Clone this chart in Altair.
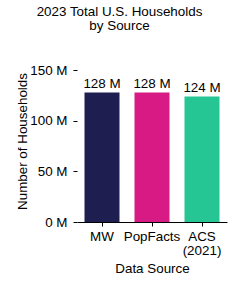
import altair as alt
import pandas as pd

sources = ["MW", "PopFacts", "ACS\n(2021)"]
households_m = [128, 128, 124]
value_labels = ["128 M", "128 M", "124 M"]
colors = ["#1e1f50", "#d81b84", "#26c594"]

df = pd.DataFrame({"source": sources, "value": households_m, "label": value_labels})

FONT = "Liberation Sans"
FS = 13.4

base = alt.Chart(df).encode(
    x=alt.X("source:N", sort=sources, title="Data Source",
            scale=alt.Scale(paddingInner=0.3, paddingOuter=0.15),
            axis=alt.Axis(labelAngle=0, labelExpr="split(datum.label, '\\n')",
                          labelFontSize=FS, titleFontSize=FS, labelColor="black",
                          titleColor="black", titleFontWeight="normal",
                          domainColor="black", tickColor="black", tickSize=4,
                          labelPadding=3, labelFont=FONT, titleFont=FONT,
                          labelLineHeight=14, titleBaseline="alphabetic",
                          titleX=75, titleY=50)),
)

bars = base.mark_bar().encode(
    y=alt.Y("value:Q", title="Number of Households",
            scale=alt.Scale(domain=[0, 150]),
            axis=alt.Axis(values=[0, 50, 100, 150], labelExpr="datum.value + ' M'",
                          domain=False, grid=False, labelFontSize=FS, titleFontSize=FS,
                          labelColor="black", titleColor="black", titleFontWeight="normal",
                          tickColor="black", tickSize=4, labelPadding=6,
                          labelFont=FONT, titleFont=FONT, titleBaseline="alphabetic",
                          titleX=-51, titleY=81)),
    color=alt.Color("source:N", sort=sources, scale=alt.Scale(domain=sources, range=colors), legend=None),
)

text = base.mark_text(dy=-4, baseline="alphabetic", fontSize=FS, font=FONT, color="black").encode(
    y=alt.Y("value:Q"),
    text="label:N",
)

chart = (bars + text).properties(
    width=150, height=162,
    autosize=alt.AutoSizeParams(type="none"),
    padding={"left": 77, "top": 60, "right": 13, "bottom": 66},
    title=alt.TitleParams(["2023 Total U.S. Households", "by Source"], fontSize=FS,
                          fontWeight="normal", font=FONT, color="black", anchor="middle",
                          frame="group", lineHeight=14, dx=-32.5, offset=28),
).configure_view(stroke=None)

chart.save("out.html", embed_options={"renderer": "svg", "actions": False})
